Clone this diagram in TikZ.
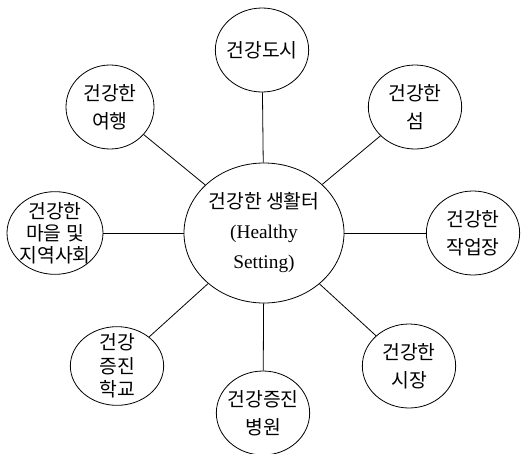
\documentclass[tikz,border=0pt]{standalone}
\usepackage{fontspec}
\setmainfont{Liberation Serif}
\newfontfamily\kor{Noto Sans CJK KR}
\usetikzlibrary{shapes.geometric}
\tikzset{bubble/.style = {draw, ellipse, inner sep = 0, line width = 0.6pt,
                          minimum width = 70pt, minimum height = 63pt}}
\tikzset{txt/.style = {align = center, inner sep = 0,
                       font = \kor\fontsize{14.5}{21}\selectfont}}
\tikzset{link/.style = {line width = 0.6pt}}

\begin{document}
\begin{tikzpicture}[x = 0.75pt, y = -0.75pt]
      \useasboundingbox (0, 0) rectangle (522, 454);

      \node [bubble, minimum width = 120pt, minimum height = 105pt,
             label = {[txt, font = \fontsize{14.5}{22.5}\selectfont]center:{\kor 건강한 생활터}\\(Healthy\\Setting)}]
            (hub) at (264, 233) {};

      \node [bubble, label = {[txt]center:건강도시}] (city) at (262, 50) {};
      \node [bubble, label = {[txt]center:건강한\\섬}] (island) at (415, 107) {};
      \node [bubble, label = {[txt]center:건강한\\작업장}] (work) at (473, 233) {};
      \node [bubble, label = {[txt]center:건강한\\시장}] (market) at (409, 366) {};
      \node [bubble, label = {[txt]center:건강증진\\병원}] (hospital) at (263, 413) {};
      \node [bubble, minimum height = 59pt,
             label = {[txt, font = \kor\fontsize{14.5}{17.5}\selectfont]center:건강\\증진\\학교}]
            (school) at (117, 366) {};
      \node [bubble, minimum width = 72pt, minimum height = 62pt,
             label = {[txt, font = \kor\fontsize{14.5}{16.5}\selectfont]center:건강한\\마을 및\\지역사회}]
            (village) at (55, 233) {};
      \node [bubble, minimum width = 66pt, label = {[txt]center:건강한\\여행}] (travel) at (110, 107) {};

      \draw [link] (hub) -- (city);
      \draw [link] (hub) -- (island);
      \draw [link] (hub) -- (work);
      \draw [link] (hub) -- (market);
      \draw [link] (hub) -- (hospital);
      \draw [link] (hub) -- (school);
      \draw [link] (hub) -- (village);
      \draw [link] (hub) -- (travel);
    \end{tikzpicture}
\end{document}
